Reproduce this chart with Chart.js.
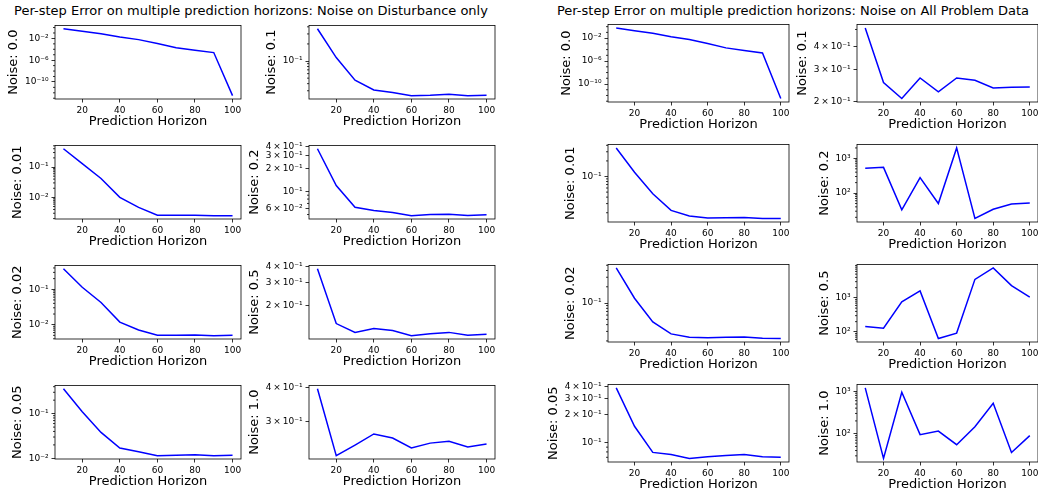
<!DOCTYPE html>
<html>
<head>
<meta charset="utf-8">
<script src="https://cdn.jsdelivr.net/npm/chart.js@4.4.1/dist/chart.umd.min.js"></script>
<style>
html, body { margin: 0; padding: 0; background: #fff; overflow: hidden; }
#page { position: relative; width: 1038px; height: 494px; overflow: hidden; }
#page canvas { position: absolute; }
.suptitle { position: absolute; top: 3px; font: 13px "DejaVu Sans"; line-height: 16px; color: #000; white-space: nowrap; transform: translateX(-50%); }
</style>
</head>
<body>
<div id="page">
  <div class="suptitle" style="left:251px">Per-step Error on multiple prediction horizons: Noise on Disturbance only</div>
  <div class="suptitle" style="left:793px">Per-step Error on multiple prediction horizons: Noise on All Problem Data</div>
</div>
<script>
var horizons = [10, 20, 30, 40, 50, 60, 70, 80, 90, 100];
var xTicks = [20, 40, 60, 80, 100];

// noise on disturbance only
var distErr00  = [0.6, 0.2, 0.07, 0.018, 0.006, 0.0012, 2e-4, 7e-5, 2.5e-5, 3e-13];
var distErr001 = [0.4, 0.13, 0.042, 0.01, 0.0047, 0.0026, 0.0026, 0.0026, 0.0025, 0.0025];
var distErr002 = [0.38, 0.114, 0.0425, 0.0118, 0.0071, 0.005, 0.005, 0.0051, 0.0049, 0.005];
var distErr005 = [0.36, 0.11, 0.038, 0.017, 0.014, 0.0115, 0.0117, 0.012, 0.0115, 0.0117];
var distErr01  = [0.37, 0.115, 0.046, 0.031, 0.028, 0.0246, 0.025, 0.026, 0.0246, 0.025];
var distErr02  = [0.37, 0.121, 0.0625, 0.0567, 0.0533, 0.0483, 0.05, 0.0505, 0.0487, 0.0495];
var distErr05  = [0.383, 0.147, 0.126, 0.135, 0.13, 0.119, 0.123, 0.126, 0.12, 0.122];
var distErr10  = [0.395, 0.225, 0.246, 0.27, 0.261, 0.24, 0.25, 0.254, 0.242, 0.248];

// noise on all problem data
var allErr00  = [0.6, 0.2, 0.07, 0.018, 0.006, 0.0012, 2e-4, 7e-5, 2.5e-5, 3e-13];
var allErr001 = [0.356, 0.121, 0.0465, 0.0222, 0.0173, 0.0158, 0.016, 0.0162, 0.0155, 0.0155];
var allErr002 = [0.446, 0.123, 0.045, 0.027, 0.0235, 0.0228, 0.0235, 0.0237, 0.0225, 0.0222];
var allErr005 = [0.39, 0.151, 0.079, 0.075, 0.068, 0.071, 0.073, 0.075, 0.071, 0.07];
var allErr01  = [0.51, 0.254, 0.207, 0.269, 0.2255, 0.269, 0.261, 0.237, 0.239, 0.24];
var allErr02  = [515, 550, 33, 280, 50, 2000, 18.5, 34, 48, 52];
var allErr05  = [145, 128, 760, 1600, 64, 92, 3500, 7600, 2300, 1050];
var allErr10  = [1200, 26, 950, 95, 115, 55, 145, 520, 36, 90];

// labelled y ticks
var wideTicks = [1e-10, 1e-6, 1e-2];
var decadeTicks = [1e-2, 1e-1, 1e2, 1e3];
var fineTicks = [6e-2, 1e-1, 2e-1, 3e-1, 4e-1];

Chart.defaults.font.family = '"DejaVu Sans", sans-serif';
Chart.defaults.color = '#000';

var Y_W = 62, PAD_T = 8, PAD_R = 12, X_H = 36;
var groups = {
    dist: { cols: [55, 309], width: 186, tops: [25, 145, 265, 385], height: 74 },
    all:  { cols: [608, 857], width: 181, tops: [24, 144, 264, 384], height: 78 }
};

var panels = [
    { g: 'dist', c: 0, r: 0, noise: '0.0',  err: distErr00,  ticks: wideTicks },
    { g: 'dist', c: 0, r: 1, noise: '0.01', err: distErr001, ticks: decadeTicks },
    { g: 'dist', c: 0, r: 2, noise: '0.02', err: distErr002, ticks: decadeTicks },
    { g: 'dist', c: 0, r: 3, noise: '0.05', err: distErr005, ticks: decadeTicks },
    { g: 'dist', c: 1, r: 0, noise: '0.1',  err: distErr01,  ticks: decadeTicks },
    { g: 'dist', c: 1, r: 1, noise: '0.2',  err: distErr02,  ticks: fineTicks },
    { g: 'dist', c: 1, r: 2, noise: '0.5',  err: distErr05,  ticks: fineTicks },
    { g: 'dist', c: 1, r: 3, noise: '1.0',  err: distErr10,  ticks: fineTicks },
    { g: 'all',  c: 0, r: 0, noise: '0.0',  err: allErr00,   ticks: wideTicks },
    { g: 'all',  c: 0, r: 1, noise: '0.01', err: allErr001,  ticks: decadeTicks },
    { g: 'all',  c: 0, r: 2, noise: '0.02', err: allErr002,  ticks: decadeTicks },
    { g: 'all',  c: 0, r: 3, noise: '0.05', err: allErr005,  ticks: fineTicks },
    { g: 'all',  c: 1, r: 0, noise: '0.1',  err: allErr01,   ticks: fineTicks },
    { g: 'all',  c: 1, r: 1, noise: '0.2',  err: allErr02,   ticks: decadeTicks },
    { g: 'all',  c: 1, r: 2, noise: '0.5',  err: allErr05,   ticks: decadeTicks },
    { g: 'all',  c: 1, r: 3, noise: '1.0',  err: allErr10,   ticks: decadeTicks }
];

var sup = { '-': '\u207b', '0': '\u2070', '1': '\u00b9', '2': '\u00b2', '3': '\u00b3', '4': '\u2074',
            '5': '\u2075', '6': '\u2076', '7': '\u2077', '8': '\u2078', '9': '\u2079' };
function fmtLog(v) {
    var e = Math.floor(Math.log10(v) + 1e-9);
    var m = Math.round(v / Math.pow(10, e));
    var p = '10' + String(e).split('').map(function (ch) { return sup[ch]; }).join('');
    return m === 1 ? p : m + '\u2009\u00d7\u2009' + p;
}

function logRange(vals) {
    var l = vals.map(Math.log10);
    var lo = Math.min.apply(null, l), hi = Math.max.apply(null, l), m = (hi - lo) * 0.05;
    return [Math.pow(10, lo - m), Math.pow(10, hi + m)];
}

function minorTicks(lo, hi, majors, wide) {
    var out = [];
    for (var k = Math.floor(Math.log10(lo)); k <= Math.ceil(Math.log10(hi)); k++) {
        for (var m = 1; m <= (wide ? 1 : 9); m++) {
            var v = m * Math.pow(10, k);
            var isMajor = majors.some(function (t) { return Math.abs(t - v) / v < 1e-6; });
            if (v >= lo && v <= hi && !isMajor) out.push(v);
        }
    }
    return out;
}

// spines on all four sides + short minor ticks
var boxPlugin = {
    id: 'box',
    afterDraw: function (chart, args, opts) {
        var ctx = chart.ctx, a = chart.chartArea, y = chart.scales.y;
        ctx.save();
        ctx.strokeStyle = '#000';
        ctx.lineWidth = 0.8;
        ctx.beginPath();
        (opts.minor || []).forEach(function (v) {
            var py = y.getPixelForValue(v);
            ctx.moveTo(a.left - 2, py);
            ctx.lineTo(a.left, py);
        });
        ctx.stroke();
        ctx.strokeRect(a.left, a.top, a.right - a.left, a.bottom - a.top);
        ctx.restore();
    }
};

var mctx = document.createElement('canvas').getContext('2d');
mctx.font = '9px "DejaVu Sans"';

var xPad = (horizons[horizons.length - 1] - horizons[0]) * 0.05;
var page = document.getElementById('page');

panels.forEach(function (p) {
    var g = groups[p.g];
    var range = logRange(p.err);
    var lo = range[0], hi = range[1];
    var majors = p.ticks.filter(function (v) { return v >= lo && v <= hi; });
    var wide = Math.log10(hi / lo) > 6;
    var labelW = Math.max.apply(null, majors.map(function (v) { return mctx.measureText(fmtLog(v)).width; }));
    var titlePad = Math.max(0, Y_W - labelW - 17.5 - 7.8);

    var cv = document.createElement('canvas');
    var w = Y_W + g.width + PAD_R, h = PAD_T + g.height + X_H;
    cv.width = w; cv.height = h;
    cv.style.width = w + 'px'; cv.style.height = h + 'px';
    cv.style.left = (g.cols[p.c] - Y_W) + 'px';
    cv.style.top = (g.tops[p.r] - PAD_T) + 'px';
    page.appendChild(cv);

    new Chart(cv.getContext('2d'), {
        type: 'line',
        data: {
            datasets: [{
                data: horizons.map(function (hz, i) { return { x: hz, y: p.err[i] }; }),
                borderColor: '#0000ff',
                borderWidth: 1.5,
                pointRadius: 0,
                fill: false,
                tension: 0
            }]
        },
        options: {
            responsive: false,
            animation: false,
            layout: { padding: { top: PAD_T, right: PAD_R, left: 0, bottom: 0 } },
            scales: {
                x: {
                    type: 'linear',
                    min: horizons[0] - xPad,
                    max: horizons[horizons.length - 1] + xPad,
                    afterBuildTicks: function (s) { s.ticks = xTicks.map(function (v) { return { value: v }; }); },
                    afterFit: function (s) { s.height = X_H; },
                    ticks: { font: { size: 9 }, color: '#000', padding: 3, maxRotation: 0, autoSkip: false },
                    grid: { drawOnChartArea: false, tickLength: 3.5, color: '#000', lineWidth: 0.8 },
                    border: { display: false },
                    title: { display: true, text: 'Prediction Horizon', font: { size: 13 }, color: '#000',
                             padding: { top: 0, bottom: X_H - 22.5 - 7.8 } }
                },
                y: {
                    type: 'logarithmic',
                    min: lo,
                    max: hi,
                    afterBuildTicks: function (s) { s.ticks = majors.map(function (v) { return { value: v }; }); },
                    afterFit: function (s) { s.width = Y_W; },
                    ticks: { font: { size: 9 }, color: '#000', padding: 3, autoSkip: false,
                             callback: function (v) { return fmtLog(v); } },
                    grid: { drawOnChartArea: false, tickLength: 3.5, color: '#000', lineWidth: 0.8 },
                    border: { display: false },
                    title: { display: true, text: 'Noise: ' + p.noise, font: { size: 13 }, color: '#000',
                             padding: { top: titlePad, bottom: 0 } }
                }
            },
            plugins: {
                legend: { display: false },
                tooltip: { enabled: false },
                box: { minor: minorTicks(lo, hi, majors, wide) }
            }
        },
        plugins: [boxPlugin]
    });
});
</script>
</body>
</html>
